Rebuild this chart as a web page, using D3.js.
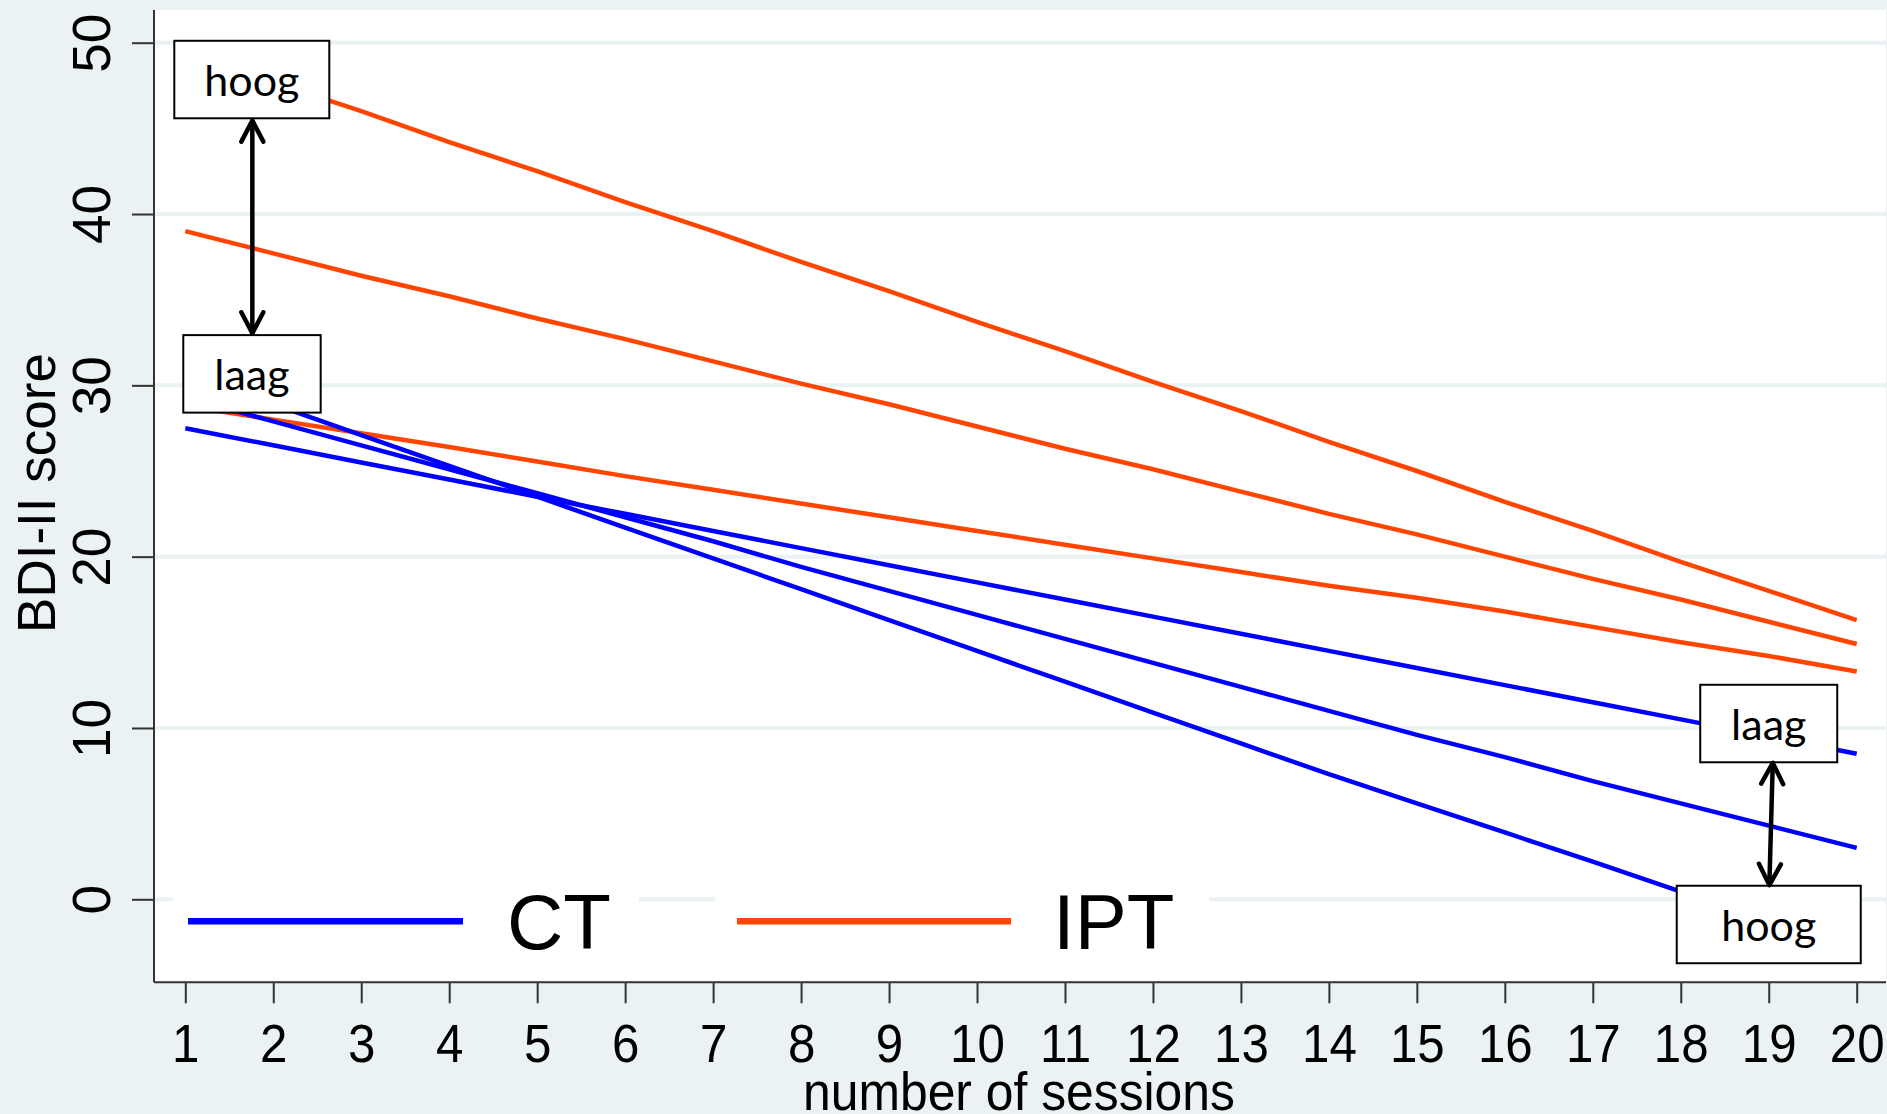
<!DOCTYPE html>
<html>
<head>
<meta charset="utf-8">
<script src="https://cdn.jsdelivr.net/npm/d3@7"></script>
<style>
  html, body { margin: 0; padding: 0; background: #eaf2f3; }
  svg { display: block; }
  text { font-family: "Liberation Sans", Arial, sans-serif; }
  .note { font-family: Lato, "Open Sans", sans-serif; }
</style>
</head>
<body>
<svg id="chart" width="1887" height="1114"></svg>
<script>
// ---------------- data ----------------
const sessions = [1,2,3,4,5,6,7,8,9,10,11,12,13,14,15,16,17,18,19,20];
const yTicks = [0,10,20,30,40,50];
const xLabel = "number of sessions";
const yLabel = "BDI-II score";
const legendLabels = ["CT", "IPT"];

// CT (blue) curves
const ctLow  = [27.5,26.5,25.5,24.5,23.5,22.5,21.5,20.5,19.5,18.5,17.5,16.5,15.5,14.5,13.5,12.5,11.5,10.5,9.5,8.5];
const ctMid  = [29.3,27.9,26.5,25.1,23.7,22.3,20.9,19.4,18.0,16.6,15.2,13.8,12.4,11.0,9.6,8.3,6.9,5.6,4.3,3.0];
const ctHigh = [30.7,28.9,27.1,25.3,23.5,21.7,19.9,18.1,16.3,14.5,12.7,10.9,9.1,7.3,5.6,3.9,2.2,0.45,-1.3,-3.0];
// IPT (orange) curves
const iptHigh = [49.5,47.7,46.0,44.2,42.5,40.7,39.0,37.2,35.5,33.7,32.0,30.2,28.5,26.7,25.0,23.2,21.5,19.7,18.0,16.3];
const iptMid  = [39.0,37.7,36.4,35.2,33.9,32.7,31.4,30.1,28.9,27.6,26.3,25.1,23.8,22.5,21.3,20.0,18.7,17.5,16.2,14.9];
const iptLow  = [28.8,28.0,27.2,26.4,25.55,24.7,23.9,23.1,22.3,21.5,20.7,19.9,19.1,18.3,17.6,16.8,15.9,15.0,14.2,13.3];

// annotation labels (anchored in data units)
const noteLabels = ["hoog", "laag", "laag", "hoog"];
const noteSessions = [1.756, 1.758, 19.0, 19.0];
const noteValues = [47.85, 30.67, 10.26, -1.47];
const arrowFrom = [[1.762, 45.45], [19.046, 7.96]];
const arrowTo   = [[1.762, 33.04], [19.007, 0.83]];

// ---------------- layout ----------------
const W = 1887, H = 1114;
const plot = { left: 154, right: 1886, top: 10, bottom: 982.3 };
const noteW = [155, 137.4, 137, 184];
const noteH = 77.5;
const colors = { CT: "#0000ff", IPT: "#ff4500" };

const svg = d3.select("#chart");

const x = d3.scaleLinear().domain([1, 20]).range([185.3, 1856.7]);
const y = d3.scaleLinear().domain([0, 50]).range([899.3, 42.7]);

// plot region
svg.append("rect")
  .attr("x", plot.left).attr("y", plot.top)
  .attr("width", plot.right - plot.left).attr("height", plot.bottom - plot.top)
  .attr("fill", "#ffffff");

// gridlines
svg.append("g").selectAll("line").data(yTicks).join("line")
  .attr("x1", plot.left).attr("x2", plot.right)
  .attr("y1", d => y(d)).attr("y2", d => y(d))
  .attr("stroke", "#eaf2f3").attr("stroke-width", 4);

// legend backgrounds (inside plot)
const legendG = svg.append("g");
const legendKeys = [
  { label: legendLabels[0], color: colors.CT, bg: [173, 639], line: [188, 463], tx: 507 },
  { label: legendLabels[1], color: colors.IPT, bg: [715, 1209], line: [737, 1011], tx: 1053 }
];
legendG.selectAll("rect").data(legendKeys).join("rect")
  .attr("x", d => d.bg[0]).attr("width", d => d.bg[1] - d.bg[0])
  .attr("y", 884).attr("height", 78).attr("fill", "#ffffff");
legendG.selectAll("line").data(legendKeys).join("line")
  .attr("x1", d => d.line[0]).attr("x2", d => d.line[1])
  .attr("y1", 921.3).attr("y2", 921.3)
  .attr("stroke", d => d.color).attr("stroke-width", 6.5);
legendG.selectAll("text").data(legendKeys).join("text")
  .attr("x", d => d.tx).attr("y", 949)
  .attr("font-size", 78).attr("fill", "#000")
  .text(d => d.label);

// series lines
const series = [
  { values: iptHigh, color: colors.IPT },
  { values: iptMid, color: colors.IPT },
  { values: iptLow, color: colors.IPT },
  { values: ctLow, color: colors.CT },
  { values: ctMid, color: colors.CT },
  { values: ctHigh, color: colors.CT }
];
const line = d3.line().x((d, i) => x(sessions[i])).y(d => y(d));
svg.append("g").selectAll("path").data(series).join("path")
  .attr("d", d => line(d.values))
  .attr("fill", "none")
  .attr("stroke", d => d.color)
  .attr("stroke-width", 4.5)
  .attr("stroke-linejoin", "round");

// y axis
const yAxis = d3.axisLeft(y).tickValues(yTicks).tickSize(22).tickPadding(0).tickFormat(d3.format("d"));
const yG = svg.append("g").attr("transform", `translate(${plot.left},0)`).call(yAxis);
yG.select(".domain").remove();
yG.selectAll(".tick line").attr("stroke", "#333").attr("stroke-width", 2);
yG.selectAll(".tick text")
  .attr("x", null).attr("dy", null)
  .attr("text-anchor", "middle")
  .attr("font-size", 53)
  .attr("font-family", "'Liberation Sans', Arial, sans-serif")
  .attr("fill", "#000")
  .attr("transform", "translate(-44,0) rotate(-90)");
svg.append("line")
  .attr("x1", plot.left).attr("x2", plot.left)
  .attr("y1", plot.top).attr("y2", plot.bottom)
  .attr("stroke", "#333").attr("stroke-width", 2);

// x axis
const xAxis = d3.axisBottom(x).tickValues(sessions).tickSize(21).tickPadding(0).tickFormat(d3.format("d"));
const xG = svg.append("g").attr("transform", `translate(0,${plot.bottom})`).call(xAxis);
xG.select(".domain").remove();
xG.selectAll(".tick line").attr("stroke", "#333").attr("stroke-width", 2);
xG.selectAll(".tick text")
  .attr("y", null).attr("dy", null)
  .attr("font-size", 53)
  .attr("font-family", "'Liberation Sans', Arial, sans-serif")
  .attr("fill", "#000")
  .attr("transform", "translate(0,79.4) scale(0.93,1)");
svg.append("line")
  .attr("x1", plot.left).attr("x2", plot.right)
  .attr("y1", plot.bottom).attr("y2", plot.bottom)
  .attr("stroke", "#333").attr("stroke-width", 2);

// axis titles
svg.append("text")
  .attr("x", 1019).attr("y", 1110)
  .attr("text-anchor", "middle")
  .attr("font-size", 53)
  .attr("fill", "#000")
  .attr("transform", "translate(1019,0) scale(0.94,1) translate(-1019,0)")
  .text(xLabel);
svg.append("text")
  .attr("transform", "translate(55,493) rotate(-90)")
  .attr("text-anchor", "middle")
  .attr("font-size", 53)
  .attr("fill", "#000")
  .text(yLabel);

// annotation boxes
const notes = noteLabels.map((t, i) => ({ t, s: noteSessions[i], v: noteValues[i], w: noteW[i] }));
const noteG = svg.append("g").selectAll("g").data(notes).join("g")
  .attr("transform", d => `translate(${x(d.s)},${y(d.v)})`);
noteG.append("rect")
  .attr("x", d => -d.w / 2).attr("y", -noteH / 2)
  .attr("width", d => d.w).attr("height", noteH)
  .attr("fill", "#fff").attr("stroke", "#000").attr("stroke-width", 2);
noteG.append("text")
  .attr("class", "note")
  .attr("text-anchor", "middle")
  .attr("y", 16.5)
  .attr("font-size", 43)
  .attr("fill", "#000")
  .text(d => d.t);

// double-headed arrows
const arrows = arrowFrom.map((a, i) => ({ a, b: arrowTo[i] }));
const arrowG = svg.append("g").attr("stroke", "#000").attr("stroke-width", 4.5)
  .attr("fill", "none").attr("stroke-linecap", "round").attr("stroke-linejoin", "round");
arrows.forEach(({ a, b }) => {
  const x1 = x(a[0]), y1 = y(a[1]), x2 = x(b[0]), y2 = y(b[1]);
  arrowG.append("line").attr("x1", x1).attr("y1", y1).attr("x2", x2).attr("y2", y2);
  const ang = Math.atan2(y2 - y1, x2 - x1);
  const head = (px, py, dir) => {
    const L = 21, Wd = 11;
    const bx = px - L * Math.cos(dir), by = py - L * Math.sin(dir);
    const nx = -Math.sin(dir) * Wd, ny = Math.cos(dir) * Wd;
    arrowG.append("polyline")
      .attr("points", `${bx + nx},${by + ny} ${px},${py} ${bx - nx},${by - ny}`);
  };
  head(x2, y2, ang);
  head(x1, y1, ang + Math.PI);
});
</script>
</body>
</html>
